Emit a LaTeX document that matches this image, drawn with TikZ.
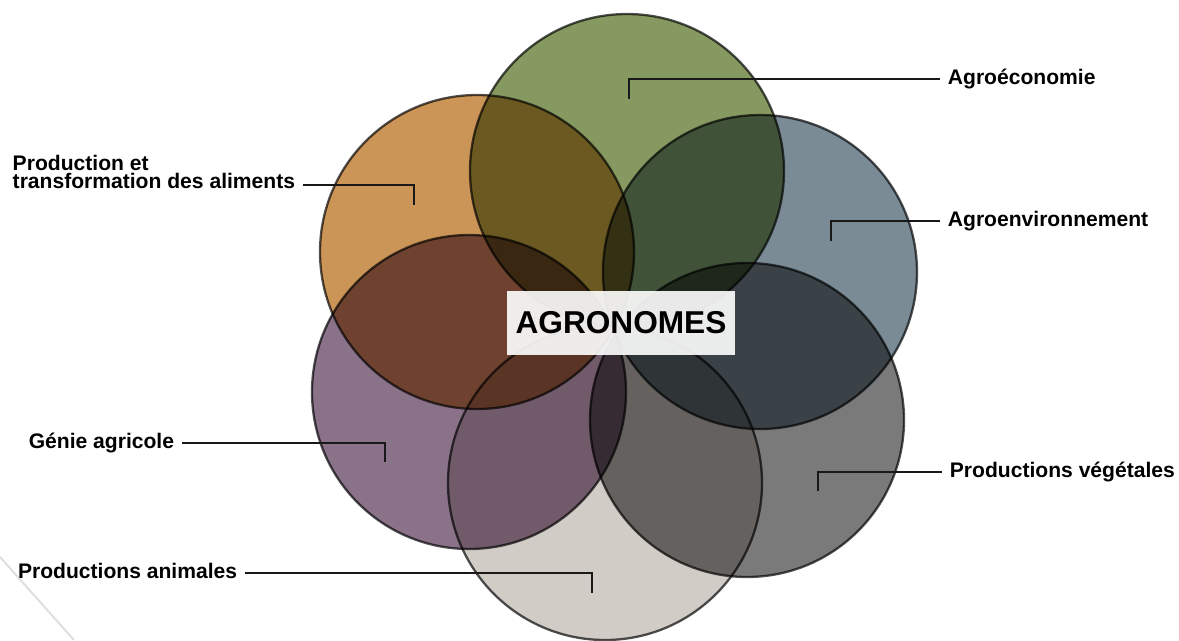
\documentclass[tikz,border=0pt]{standalone}
\usepackage{fontspec}
\setsansfont{Liberation Sans}
\usepackage{xcolor}
\definecolor{agreco}{HTML}{869960}
\definecolor{transfo}{HTML}{CC9558}
\definecolor{agenv}{HTML}{7A8B96}
\definecolor{genie}{HTML}{8A7289}
\definecolor{vegetal}{HTML}{7A7A7A}
\definecolor{animal}{HTML}{D2CCC6}
\tikzset{
	ring/.style={draw=black!68, line width=1.3pt, blend mode=multiply},
	txt/.style={font=\sffamily\bfseries\fontsize{12}{10.6}\selectfont, inner sep=0pt, outer xsep=4.5pt},
	lbl/.style={txt, text height=8.6pt, text depth=2.4pt},
	leader/.style={draw=black!90, line width=0.8pt},
	hub/.style={fill=white, fill opacity=0.9, text opacity=1, minimum width=4.56cm, minimum height=1.28cm,
		inner sep=0pt, font=\sffamily\bfseries\fontsize{18}{20}\selectfont}
}

\begin{document}
\begin{tikzpicture}[x=0.02cm, y=-0.02cm]
		\useasboundingbox (0,0) rectangle (1179,640);
		\draw[black!13, line width=1.1pt] (0,557) -- (74,640);
		\foreach \cx/\cy/\col in {627/171/agreco, 477/252/transfo, 760/272/agenv, 469/392/genie, 747/420/vegetal, 605/483/animal}
			{
				\draw[ring, fill=\col] (\cx,\cy) circle[radius=157];
			}
		\node[hub] (hub) at (621,323) {AGRONOMES};

		\coordinate (eco-t) at (629,99);
		\coordinate (env-t) at (831,241);
		\coordinate (veg-t) at (818,491);
		\coordinate (ani-t) at (592,593);
		\coordinate (gen-t) at (385,462);
		\coordinate (pta-c) at (414,185);
		\coordinate (pta-t) at (414,205);

		\node[lbl, anchor=west] (eco) at (940,79) {Agroéconomie};
		\node[lbl, anchor=west] (env) at (940,221) {Agroenvironnement};
		\node[lbl, anchor=west] (veg) at (942,472) {Productions végétales};
		\node[lbl, anchor=east] (ani) at (245,573) {Productions animales};
		\node[lbl, anchor=east] (gen) at (182,443) {Génie agricole};
		\node[txt, align=left, anchor=south east] (pta) at (303,189.3) {Production et\\transformation des aliments};

		\draw[leader] (eco) -| (eco-t);
		\draw[leader] (env) -| (env-t);
		\draw[leader] (veg) -| (veg-t);
		\draw[leader] (ani) -| (ani-t);
		\draw[leader] (gen) -| (gen-t);
		\draw[leader] (pta.south east |- pta-c) -- (pta-c) -- (pta-t);
	\end{tikzpicture}
\end{document}
